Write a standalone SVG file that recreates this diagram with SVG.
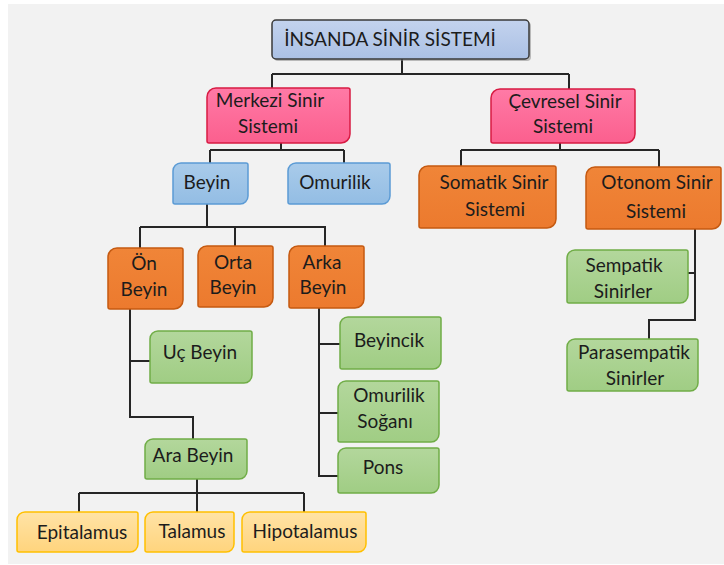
<svg xmlns="http://www.w3.org/2000/svg" width="724" height="565" viewBox="0 0 724 565">
<defs>
<linearGradient id="gPink" x1="0" y1="0" x2="0" y2="1"><stop offset="0" stop-color="#ff7aa6"/><stop offset="1" stop-color="#fb5f8e"/></linearGradient>
<linearGradient id="gBlue" x1="0" y1="0" x2="0" y2="1"><stop offset="0" stop-color="#a9cbea"/><stop offset="1" stop-color="#93bde4"/></linearGradient>
<linearGradient id="gTitle" x1="0" y1="0" x2="0" y2="1"><stop offset="0" stop-color="#c3d3ee"/><stop offset="1" stop-color="#abc0e4"/></linearGradient>
<linearGradient id="gOrange" x1="0" y1="0" x2="0" y2="1"><stop offset="0" stop-color="#f08538"/><stop offset="1" stop-color="#ec7a2e"/></linearGradient>
<linearGradient id="gGreen" x1="0" y1="0" x2="0" y2="1"><stop offset="0" stop-color="#b3d79c"/><stop offset="1" stop-color="#a0cd84"/></linearGradient>
<linearGradient id="gYellow" x1="0" y1="0" x2="0" y2="1"><stop offset="0" stop-color="#ffe3a6"/><stop offset="1" stop-color="#ffd47d"/></linearGradient>
</defs>
<style>
text{font-family:"Lato","Liberation Sans",sans-serif;font-size:19px;fill:#1c1c1c;text-anchor:middle}
.pink{fill:url(#gPink);stroke:#d81b43;stroke-width:1.5}
.blue{fill:url(#gBlue);stroke:#5b9bd5;stroke-width:1.5}
.orange{fill:url(#gOrange);stroke:#c55a11;stroke-width:1.5}
.green{fill:url(#gGreen);stroke:#70ad47;stroke-width:1.5}
.yellow{fill:url(#gYellow);stroke:#ffc000;stroke-width:1.5}
.title{fill:url(#gTitle);stroke:#3a3a3a;stroke-width:1.5}
.conn{fill:none;stroke:#262626;stroke-width:2}
</style>
<rect x="8" y="4" width="716" height="560" fill="#f2f2f2"/>

<g id="connectors" class="conn">
<path d="M402,59 V74 M272,74 H569 M272,74 V88 M569,74 V89"/>
<path d="M281,143 V150 M210,150 H344 M210,150 V163 M344,150 V163"/>
<path d="M560,143 V150 M461,150 H659 M461,150 V166 M659,150 V167"/>
<path d="M207,204 V227 M140,227 H325 V246 M140,227 V248 M235,227 V246"/>
<path d="M130,309 V417 H193 V439 M130,361 H150"/>
<path d="M319,308 V476 H338 M319,344 H340 M319,413 H338"/>
<path d="M197,479 V493 M79,493 H304 M79,493 V512 M197,493 V512 M304,493 V512"/>
<path d="M695,229 V320 H649 V339 M687,273 H695"/>
</g>

<g id="title">
<rect x="274" y="22" width="257" height="39" rx="4" fill="#7f7f7f" opacity="0.5"/>
<rect class="title" x="272" y="20" width="257" height="39" rx="4"/>
<text x="390" y="46">İNSANDA SİNİR SİSTEMİ</text>
</g>

<g id="merkezi">
<path class="pink" d="M216,88 H348 A2 2 0 0 1 350,90 V134 A9 9 0 0 1 341,143 H209 A2 2 0 0 1 207,141 V97 A9 9 0 0 1 216,88 Z"/>
<text x="270" y="107">Merkezi Sinir</text>
<text x="268" y="133">Sistemi</text>
</g>

<g id="cevresel">
<path class="pink" d="M500,89 H633 A2 2 0 0 1 635,91 V134 A9 9 0 0 1 626,143 H493 A2 2 0 0 1 491,141 V98 A9 9 0 0 1 500,89 Z"/>
<text x="565" y="108">Çevresel Sinir</text>
<text x="563" y="133">Sistemi</text>
</g>

<g id="beyin">
<path class="blue" d="M181,163 H246 A2 2 0 0 1 248,165 V196 A8 8 0 0 1 240,204 H175 A2 2 0 0 1 173,202 V171 A8 8 0 0 1 181,163 Z"/>
<text x="207" y="189">Beyin</text>
</g>

<g id="omurilik">
<path class="blue" d="M296,163 H388 A2 2 0 0 1 390,165 V196 A8 8 0 0 1 382,204 H290 A2 2 0 0 1 288,202 V171 A8 8 0 0 1 296,163 Z"/>
<text x="335" y="189">Omurilik</text>
</g>

<g id="on-beyin">
<path class="orange" d="M117,248 H181 A2 2 0 0 1 183,250 V300 A9 9 0 0 1 174,309 H110 A2 2 0 0 1 108,307 V257 A9 9 0 0 1 117,248 Z"/>
<text x="144" y="270">Ön</text>
<text x="144" y="296">Beyin</text>
</g>

<g id="orta-beyin">
<path class="orange" d="M207,246 H271 A2 2 0 0 1 273,248 V298 A9 9 0 0 1 264,307 H200 A2 2 0 0 1 198,305 V255 A9 9 0 0 1 207,246 Z"/>
<text x="233" y="269">Orta</text>
<text x="233" y="294">Beyin</text>
</g>

<g id="arka-beyin">
<path class="orange" d="M298,246 H362 A2 2 0 0 1 364,248 V299 A9 9 0 0 1 355,308 H291 A2 2 0 0 1 289,306 V255 A9 9 0 0 1 298,246 Z"/>
<text x="322" y="269">Arka</text>
<text x="323" y="294">Beyin</text>
</g>

<g id="somatik">
<path class="orange" d="M428,166 H554 A2 2 0 0 1 556,168 V219 A9 9 0 0 1 547,228 H421 A2 2 0 0 1 419,226 V175 A9 9 0 0 1 428,166 Z"/>
<text x="494" y="189">Somatik Sinir</text>
<text x="495" y="216">Sistemi</text>
</g>

<g id="otonom">
<path class="orange" d="M595,167 H719 A2 2 0 0 1 721,169 V220 A9 9 0 0 1 712,229 H588 A2 2 0 0 1 586,227 V176 A9 9 0 0 1 595,167 Z"/>
<text x="657" y="189">Otonom Sinir</text>
<text x="656" y="218">Sistemi</text>
</g>

<g id="sempatik">
<path class="green" d="M575,250 H686 A2 2 0 0 1 688,252 V295 A8 8 0 0 1 680,303 H569 A2 2 0 0 1 567,301 V258 A8 8 0 0 1 575,250 Z"/>
<text x="624" y="272">Sempatik</text>
<text x="623" y="298">Sinirler</text>
</g>

<g id="parasempatik">
<path class="green" d="M575,339 H696 A2 2 0 0 1 698,341 V383 A8 8 0 0 1 690,391 H569 A2 2 0 0 1 567,389 V347 A8 8 0 0 1 575,339 Z"/>
<text x="634" y="359">Parasempatik</text>
<text x="635" y="385">Sinirler</text>
</g>

<g id="uc-beyin">
<path class="green" d="M158,331 H250 A2 2 0 0 1 252,333 V375 A8 8 0 0 1 244,383 H152 A2 2 0 0 1 150,381 V339 A8 8 0 0 1 158,331 Z"/>
<text x="200" y="359">Uç Beyin</text>
</g>

<g id="beyincik">
<path class="green" d="M348,317 H439 A2 2 0 0 1 441,319 V361 A8 8 0 0 1 433,369 H342 A2 2 0 0 1 340,367 V325 A8 8 0 0 1 348,317 Z"/>
<text x="389" y="347">Beyincik</text>
</g>

<g id="omurilik-sogani">
<path class="green" d="M346,381 H437 A2 2 0 0 1 439,383 V434 A8 8 0 0 1 431,442 H340 A2 2 0 0 1 338,440 V389 A8 8 0 0 1 346,381 Z"/>
<text x="389" y="402">Omurilik</text>
<text x="385" y="428">Soğanı</text>
</g>

<g id="pons">
<path class="green" d="M346,448 H437 A2 2 0 0 1 439,450 V485 A8 8 0 0 1 431,493 H340 A2 2 0 0 1 338,491 V456 A8 8 0 0 1 346,448 Z"/>
<text x="383" y="474">Pons</text>
</g>

<g id="ara-beyin">
<path class="green" d="M153,439 H245 A2 2 0 0 1 247,441 V471 A8 8 0 0 1 239,479 H147 A2 2 0 0 1 145,477 V447 A8 8 0 0 1 153,439 Z"/>
<text x="193" y="462">Ara Beyin</text>
</g>

<g id="epitalamus">
<path class="yellow" d="M25,512 H136 A2 2 0 0 1 138,514 V544 A8 8 0 0 1 130,552 H19 A2 2 0 0 1 17,550 V520 A8 8 0 0 1 25,512 Z"/>
<text x="82" y="539">Epitalamus</text>
</g>

<g id="talamus">
<path class="yellow" d="M153,512 H232 A2 2 0 0 1 234,514 V544 A8 8 0 0 1 226,552 H147 A2 2 0 0 1 145,550 V520 A8 8 0 0 1 153,512 Z"/>
<text x="192" y="538">Talamus</text>
</g>

<g id="hipotalamus">
<path class="yellow" d="M250,512 H364 A2 2 0 0 1 366,514 V544 A8 8 0 0 1 358,552 H244 A2 2 0 0 1 242,550 V520 A8 8 0 0 1 250,512 Z"/>
<text x="305" y="538">Hipotalamus</text>
</g>
</svg>
